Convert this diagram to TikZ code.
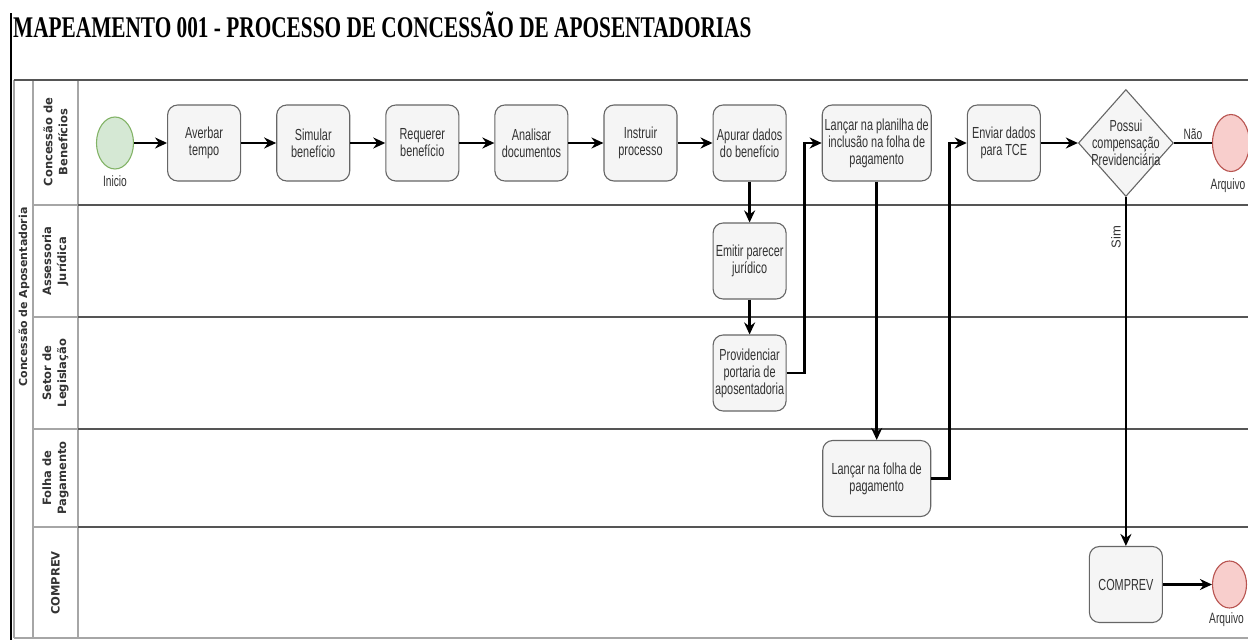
\documentclass[tikz,border=0pt]{standalone}
\usepackage{fontspec}
\usetikzlibrary{positioning,shapes.geometric,arrows.meta}
\setmainfont{Liberation Sans}
\newfontfamily\titlefont[FakeStretch=0.71]{Liberation Serif}
\newfontfamily\boxfont[FakeStretch=0.68]{Liberation Sans}
\newfontfamily\plainfont{Liberation Sans}
\newfontfamily\lanefont{DejaVu Sans}
\definecolor{boxfill}{HTML}{F5F5F5}
\definecolor{boxline}{HTML}{666666}
\definecolor{startfill}{HTML}{D5E8D4}
\definecolor{startline}{HTML}{82B366}
\definecolor{endfill}{HTML}{F8CECC}
\definecolor{endline}{HTML}{B85450}
\definecolor{laneline}{HTML}{555555}
\definecolor{textgray}{HTML}{333333}
\tikzset{
  task box/.style={
    rectangle, rounded corners=10pt,
    fill=boxfill, draw=boxline, line width=1.1pt,
    minimum width={#1pt}, minimum height=76pt,
    inner sep=1pt, align=center, text=textgray,
    font=\boxfont\fontsize{16}{17}\selectfont,
  },
  task box/.default=73,
  start event/.style={
    ellipse, fill=startfill, draw=startline, line width=1.1pt,
    minimum width=37pt, minimum height=52pt, inner sep=0pt,
  },
  end event/.style={
    ellipse, fill=endfill, draw=endline, line width=1.1pt,
    minimum width=37pt, minimum height=57pt, inner sep=0pt,
  },
  decision box/.style={
    diamond, fill=boxfill, draw=boxline, line width=1.1pt,
    minimum width=95pt, minimum height=107pt, inner sep=0pt,
  },
  event text/.style={
    text=textgray, font=\boxfont\fontsize{15}{16}\selectfont,
  },
  lane label/.style={
    rotate=90, align=center, text=textgray,
    font=\lanefont\bfseries\fontsize{11.5}{15}\selectfont,
  },
  pool label/.style={
    rotate=90, text=textgray,
    font=\lanefont\bfseries\fontsize{11}{13}\selectfont,
  },
  lane border/.style={draw=laneline, line width=2.4pt},
  lane thin/.style={draw=gray!70, line width=1.1pt},
  flow/.style={line width=2.5pt, -{Stealth[length=12pt,width=11pt]}},
}

\begin{document}
\begin{tikzpicture}[x=1pt, y=-1pt, node distance=35pt]
    \useasboundingbox (0,0) rectangle (1248,640);
    \clip (0,0) rectangle (1248,640);

    % titulo
    \node [anchor=base west, inner sep=0pt,
           font=\titlefont\bfseries\fontsize{30}{32}\selectfont] (titulo) at (13,37)
          {MAPEAMENTO 001 - PROCESSO DE CONCESSÃO DE APOSENTADORIAS};
    \draw [line width=2pt] (11,13) -- (11,640);

    % raias
    \draw [lane thin] (14,80) -- (14,638);
    \draw [lane thin] (33,80) -- (33,638);
    \draw [lane thin] (78,80) -- (78,638);
    \draw [lane thin] (14,638) -- (1248,638);
    \draw [lane border] (14,80) -- (1248,80);
    \foreach \y in {205,317,429,527} {
        \draw [lane thin] (33,\y) -- (78,\y);
        \draw [lane border] (78,\y) -- (1248,\y);
    }

    \node [pool label] (pool) at (24,297) {Concessão de Aposentadoria};
    \node [lane label] (raia1) at (55.5,142) {Concessão de\\Benefícios};
    \node [lane label] (raia2) at (55.5,261) {Assessoria\\Jurídica};
    \node [lane label] (raia3) at (55.5,373) {Setor de\\Legislação};
    \node [lane label] (raia4) at (55.5,478) {Folha de\\Pagamento};
    \node [lane label] (raia5) at (55.5,583) {COMPREV};

    % tarefas
    \node [start event, label={[event text, label distance=3pt]below:Inicio}] (inicio) at (115,143) {};
    \node [task box, right=33pt of inicio] (averbar) {Averbar\\tempo};
    \node [task box, right=of averbar] (simular) {Simular\\benefício};
    \node [task box, right=of simular] (requerer) {Requerer\\benefício};
    \node [task box, right=of requerer] (analisar) {Analisar\\documentos};
    \node [task box, right=of analisar] (instruir) {Instruir\\processo};
    \node [task box, right=of instruir] (apurar) {Apurar dados\\do benefício};
    \node [task box=109, right=of apurar] (planilha) {Lançar na planilha de\\inclusão na folha de\\pagamento};
    \node [task box, right=of planilha] (enviar) {Enviar dados\\para TCE};
    \node [decision box, right=37pt of enviar,
           label={[event text, align=center, font=\boxfont\fontsize{16}{17}\selectfont]center:Possui\\compensação\\Previdenciária}] (compensacao) {};
    \node [end event, right=38pt of compensacao,
           label={[event text, label distance=3pt, xshift=-3pt]below:Arquivo}] (fim1) {};

    \node [task box] (emitir) at (apurar |- 0,261) {Emitir parecer\\jurídico};
    \node [task box] (providenciar) at (apurar |- 0,373) {Providenciar\\portaria de\\aposentadoria};
    \node [task box=108] (folha) at (planilha |- 0,478.5) {Lançar na folha de\\pagamento};
    \node [task box] (comprev) at (compensacao |- 0,584.5) {COMPREV};
    \node [end event, minimum width=34pt, minimum height=47pt, right=49pt of comprev,
           label={[event text, label distance=1pt, xshift=-3pt]below:Arquivo}] (fim2) {};

    % fluxos
    \foreach \a/\b in {inicio/averbar, averbar/simular, simular/requerer,
                       requerer/analisar, analisar/instruir, instruir/apurar,
                       apurar/emitir, emitir/providenciar, planilha/folha,
                       enviar/compensacao, comprev/fim2}
        \draw [flow] (\a) -- (\b);
    \draw [flow] (providenciar.east) -- ++(18,0) |- (planilha.west);
    \draw [flow] (folha.east) -- ++(18,0) |- (enviar.west);
    \draw [line width=2.5pt] (compensacao) -- node [above, event text, inner sep=2pt] {Não} (fim1);
    \draw [flow] (compensacao) -- node [pos=0.114, rotate=90, anchor=south, inner sep=4pt,
          text=textgray, font=\plainfont\fontsize{13}{14}\selectfont] {Sim} (comprev);
\end{tikzpicture}
\end{document}
